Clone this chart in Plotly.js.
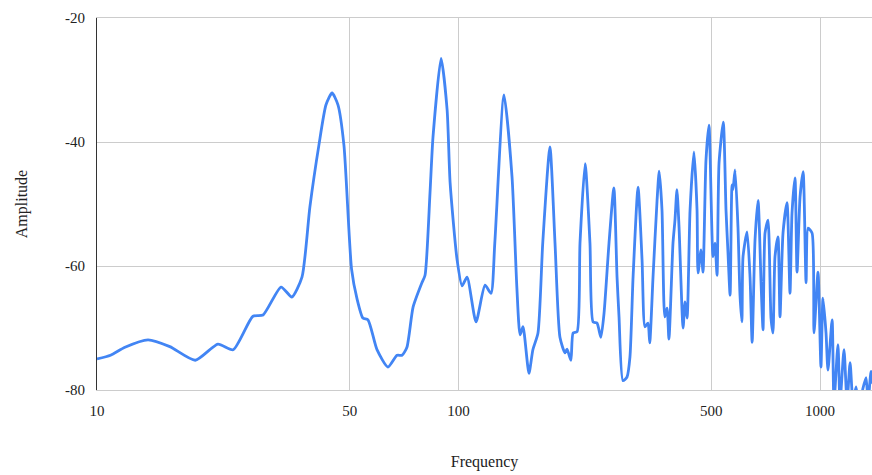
<!DOCTYPE html>
<html>
<head>
<meta charset="utf-8">
<script src="https://cdn.plot.ly/plotly-3.0.1.min.js"></script>
<style>html,body{margin:0;padding:0;background:#fff;}#chart{width:872px;height:475px;}</style>
</head>
<body>
<div id="chart"></div>
<script>
const frequency = [10, 10.9, 11.95, 13.84, 15.9, 18.7, 21.6, 23.8, 27.0, 28.8, 32.3, 34.6, 36.9, 38.8, 41.1, 43.0, 44.7, 46.4, 48.2, 50.6, 52.4, 54.4, 56.2, 59.5, 63.8, 67.6, 69.8, 72.0, 74.9, 79.2, 80.8, 83.4, 85.0, 89.5, 93.0, 94.8, 99.1, 102.3, 105.6, 111.8, 118.4, 123, 126, 133.6, 140.6, 145, 148, 150.8, 156.6, 160.6, 165.9, 171, 179, 184.9, 190.8, 197, 199.6, 204.6, 207.5, 212.8, 216.8, 224, 231, 235.6, 241.6, 247.6, 252.7, 260.8, 269, 274.5, 278, 285, 292.5, 298, 304, 313.8, 321.9, 328, 334.3, 338, 345.2, 354.2, 359, 365.5, 372, 377.5, 382, 392, 397, 402, 407.4, 418, 423.3, 428.8, 437, 448, 456.9, 459.8, 468.8, 474.6, 483.7, 493, 505.8, 512.3, 519, 525.6, 540, 549.5, 556.5, 564, 571, 574.5, 582, 593, 600.7, 608, 612.4, 628.3, 640.4, 649, 661, 674, 686.9, 695.6, 704.5, 718, 731.9, 741, 750.7, 765.2, 775, 790, 810.4, 826, 836.6, 852.7, 863.8, 880.5, 898, 915, 926.8, 950.8, 962.5, 987.4, 1006, 1019, 1039, 1052, 1080, 1093, 1121, 1136, 1165, 1188, 1211, 1234, 1258, 1282, 1315, 1341, 1358, 1384, 1400];
const amplitude = [-75.0, -74.4, -73.1, -71.9, -73.0, -75.2, -72.6, -73.5, -68.1, -67.9, -63.4, -65.0, -61.8, -50.5, -40.5, -34.0, -32.1, -34.0, -40.5, -60.5, -65.3, -68.4, -68.7, -73.5, -76.3, -74.4, -74.4, -73.1, -66.6, -62.7, -61.5, -48.2, -39.2, -26.5, -34.8, -46.6, -59.0, -63.2, -61.8, -69.0, -63.1, -64.4, -56.3, -32.4, -45.6, -63.4, -71.1, -69.8, -77.3, -73.5, -70.8, -56.3, -40.8, -56.3, -71.5, -74.0, -73.4, -75.2, -70.8, -70.6, -56.3, -43.5, -56.3, -69.0, -69.2, -71.5, -67.6, -56.3, -47.4, -61.8, -68.2, -78.5, -77.9, -74.7, -61.8, -47.3, -59.0, -69.8, -69.2, -72.4, -61.8, -49.4, -44.7, -51.0, -68.2, -66.8, -71.8, -56.3, -52.6, -47.7, -53.7, -70.0, -65.8, -68.4, -51.0, -41.6, -51.0, -61.1, -57.4, -61.0, -42.9, -37.3, -58.5, -56.3, -61.5, -43.4, -36.8, -51.0, -57.9, -64.7, -46.9, -47.7, -44.5, -53.7, -64.7, -69.0, -58.5, -54.5, -61.8, -72.3, -55.8, -49.4, -62.7, -70.3, -54.7, -52.6, -68.4, -70.8, -58.5, -55.3, -68.2, -54.7, -49.8, -64.4, -51.5, -45.8, -61.0, -48.9, -44.8, -62.7, -53.9, -54.7, -70.8, -61.0, -76.3, -65.2, -70.8, -76.8, -68.7, -82.0, -72.7, -82.0, -73.5, -82.0, -75.6, -82.0, -79.5, -83.0, -79.7, -78.0, -82.0, -77.0, -79.0];
const xTickValues = [10, 50, 100, 500, 1000];
const xTickLabels = ['10', '50', '100', '500', '1000'];
const yTickValues = [-80, -60, -40, -20];
const yTickLabels = ['-80', '-60', '-40', '-20'];

const font = {family: '"Liberation Serif", "Times New Roman", serif', size: 15, color: '#222'};

Plotly.newPlot('chart', [{
  x: frequency,
  y: amplitude,
  type: 'scatter',
  mode: 'lines',
  line: {color: '#4285F4', width: 2.8, shape: 'spline', smoothing: 0.6},
  hoverinfo: 'x+y'
}], {
  width: 872,
  height: 475,
  margin: {l: 97, r: 0, t: 18, b: 85},
  paper_bgcolor: '#fff',
  plot_bgcolor: '#fff',
  showlegend: false,
  font: font,
  xaxis: {
    type: 'log',
    range: [1, 3.1438],
    tickvals: xTickValues,
    ticktext: xTickLabels,
    showgrid: true,
    gridcolor: '#cccccc',
    gridwidth: 1,
    zeroline: false,
    showline: true,
    mirror: true,
    linecolor: '#cccccc',
    linewidth: 1,
    ticks: '',
    ticklabelstandoff: 7,
    tickfont: font,
    title: {text: 'Frequency', font: {family: font.family, size: 16, color: '#222'}, standoff: 37},
    automargin: false
  },
  yaxis: {
    range: [-80, -20],
    tickvals: yTickValues,
    ticktext: yTickLabels,
    showgrid: true,
    gridcolor: '#cccccc',
    gridwidth: 1,
    zeroline: false,
    showline: true,
    linecolor: '#333333',
    linewidth: 1,
    ticks: '',
    ticklabelstandoff: 8,
    tickfont: font,
    title: {text: 'Amplitude', font: {family: font.family, size: 16, color: '#222'}, standoff: 33},
    automargin: false
  }
}, {displayModeBar: false, staticPlot: true});
</script>
</body>
</html>
